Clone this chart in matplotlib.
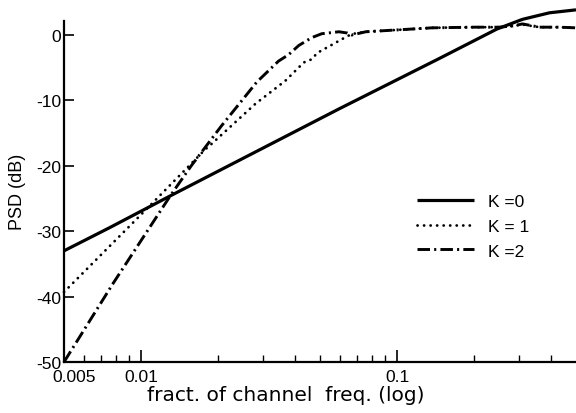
import matplotlib
matplotlib.use("Agg")
import matplotlib.pyplot as plt
from matplotlib.ticker import FixedLocator, NullFormatter
from matplotlib.transforms import ScaledTranslation

plt.rcParams['font.family'] = ['Liberation Sans', 'DejaVu Sans']
plt.rcParams['lines.scale_dashes'] = False

# K = 0 (solid)
f_k0 = [0.005, 0.0075, 0.013, 0.0183, 0.0593, 0.146, 0.245, 0.309, 0.394, 0.5]
db_k0 = [-33.0, -29.5, -24.6, -21.6, -11.3, -3.6, 0.9, 2.4, 3.4, 3.85]

# K = 1 (dotted)
f_k1 = [0.005, 0.0107, 0.0178, 0.0188, 0.028, 0.0366, 0.0432, 0.0465, 0.0487,
        0.0556, 0.0631, 0.0665, 0.0755, 0.1018, 0.137, 0.2, 0.25, 0.285, 0.309,
        0.36, 0.43, 0.5]
db_k1 = [-39.3, -26.3, -17.5, -16.7, -10.5, -7.0, -4.2, -3.7, -2.75,
         -1.5, -0.3, 0.15, 0.5, 0.8, 1.1, 1.2, 1.2, 1.4, 1.6,
         1.2, 1.2, 1.1]

# K = 2 (dash-dot)
f_k2 = [0.005, 0.00777, 0.013, 0.0157, 0.0206, 0.0283, 0.0344, 0.0377, 0.0413,
        0.0464, 0.0508, 0.0593, 0.064, 0.0665, 0.0755, 0.1018, 0.137, 0.2,
        0.25, 0.285, 0.309, 0.36, 0.43, 0.5]
db_k2 = [-50.0, -38.0, -24.6, -20.0, -13.9, -7.2, -4.0, -3.0, -1.6,
         -0.4, 0.2, 0.5, 0.3, 0.0, 0.5, 0.8, 1.1, 1.2,
         1.2, 1.4, 1.7, 1.2, 1.2, 1.1]

x_ticks = [0.005, 0.01, 0.1]
x_tick_labels = ["0.005", "0.01", "0.1"]
x_minor = [0.006, 0.007, 0.008, 0.009, 0.02, 0.03, 0.04, 0.05, 0.06, 0.07,
           0.08, 0.09, 0.2, 0.3, 0.4]
y_ticks = [0, -10, -20, -30, -40, -50]
y_tick_labels = ["0", "-10", "-20", "-30", "-40", "-50"]
legend_labels = ["K =0", "K = 1", "K =2"]

fig = plt.figure(figsize=(5.76, 4.14), dpi=100)
ax = fig.add_axes([64 / 576, 51 / 414, (576 - 64) / 576, 356.4 / 414])

ax.plot(f_k0, db_k0, color='black', lw=2.3, solid_capstyle='butt',
        label=legend_labels[0], clip_on=False)
ax.plot(f_k1, db_k1, color='black', lw=2.0, linestyle=(0, (0.1, 4.6)),
        dash_capstyle='round', label=legend_labels[1], clip_on=False)
ax.plot(f_k2, db_k2, color='black', lw=2.1, linestyle=(0, (9, 3, 1.5, 3)),
        dash_capstyle='butt', label=legend_labels[2], clip_on=False)

ax.set_xscale('log')
ax.set_xlim(0.005, 0.5)
ax.set_ylim(-50, 4.5)

for s in ['top', 'right']:
    ax.spines[s].set_visible(False)
ax.spines['left'].set_linewidth(1.6)
ax.spines['bottom'].set_linewidth(1.6)
ax.spines['left'].set_bounds(-50, 2.2)

ax.xaxis.set_major_locator(FixedLocator(x_ticks))
ax.set_xticklabels(x_tick_labels)
ax.xaxis.set_minor_locator(FixedLocator(x_minor))
ax.xaxis.set_minor_formatter(NullFormatter())
ax.set_yticks(y_ticks)
ax.set_yticklabels(y_tick_labels)

ax.tick_params(axis='x', which='major', direction='in', length=9, width=1.2,
               labelsize=12.5, pad=5)
ax.tick_params(axis='x', which='minor', direction='in', length=5, width=1.0)
ax.tick_params(axis='y', which='major', direction='in', length=7, width=1.2,
               labelsize=12.5, pad=2)

# shift the corner label 0.005 to the right
lbl = ax.get_xticklabels()[0]
lbl.set_transform(lbl.get_transform() + ScaledTranslation(10 / 100, 0, fig.dpi_scale_trans))

ax.set_ylabel("PSD (dB)", fontsize=13, labelpad=2)
ax.yaxis.set_label_coords(-0.075, 0.48)
ax.set_xlabel("fract. of channel  freq. (log)", fontsize=14.5,
              family=['DejaVu Sans'], labelpad=4)
ax.xaxis.set_label_coords(0.434, -0.064)

ax.legend(loc='upper left', bbox_to_anchor=(417 / 576, 1 - 195 / 414),
          bbox_transform=fig.transFigure, frameon=False, fontsize=12.5,
          handlelength=3.3, handletextpad=0.8, labelspacing=0.55,
          borderpad=0, borderaxespad=0)

fig.savefig("out.png", dpi=100)
